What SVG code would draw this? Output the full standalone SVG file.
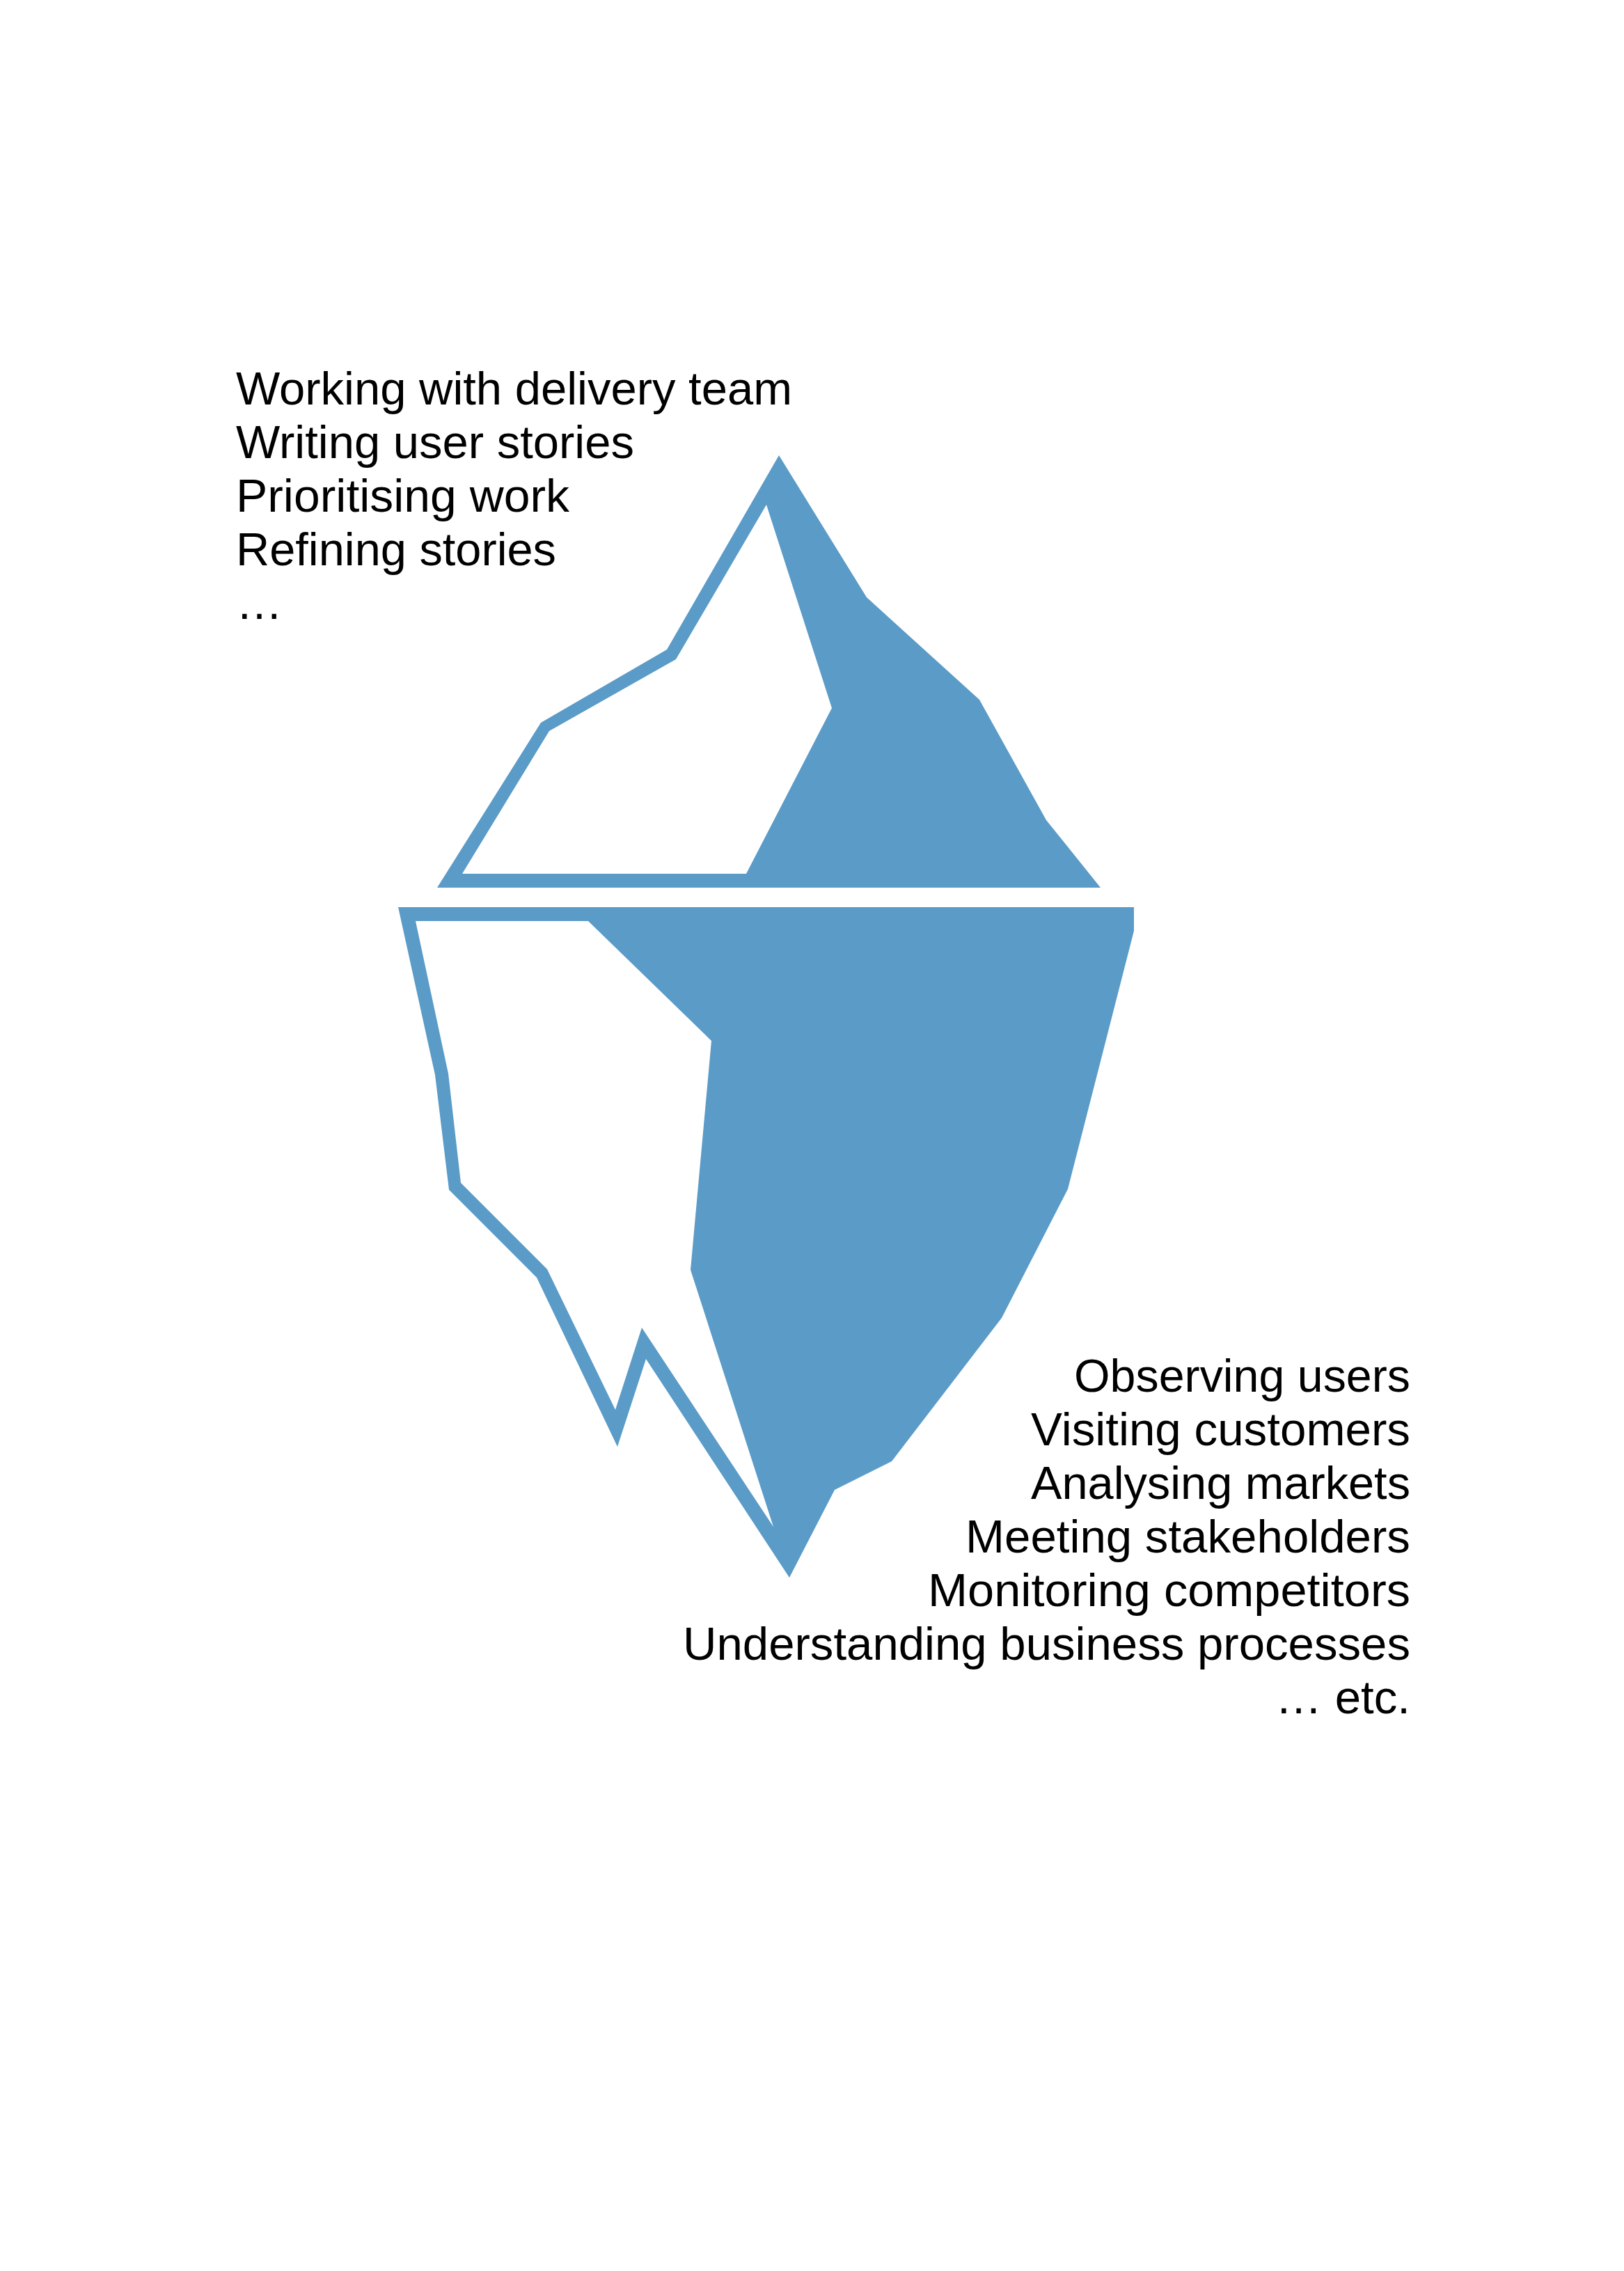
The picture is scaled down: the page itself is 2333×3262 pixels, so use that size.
<svg xmlns="http://www.w3.org/2000/svg" width="2333" height="3262" viewBox="0 0 2333 3262">
<style>
.berg{fill:#5b9bc8;fill-rule:evenodd}
text{font-family:"Liberation Sans",Arial,sans-serif;font-size:67px;fill:#000}
.r{text-anchor:end}
</style>
<rect width="2333" height="3262" fill="#fff"/>
<g id="iceberg-top">
<path class="berg" d="M1119 654L1245 858L1407 1005L1503 1178L1581 1275L628 1275L777 1038L958 933ZM1101 725L971 947L789 1050L664 1255L1072 1255L1195 1017Z"/>
</g>
<g id="iceberg-bottom">
<path class="berg" d="M572 1303L1629 1303L1629 1337L1534 1708L1439 1893L1281 2099L1199 2140L1134 2266L928 1952L887 2078L771 1835L645 1709L625 1544ZM597 1323L644 1542L662 1699L786 1823L884 2025L922 1907L1111 2193L992 1824L1022 1495L845 1323Z"/>
</g>
<g id="label-top">
<text x="339" y="581" textLength="799" lengthAdjust="spacingAndGlyphs">Working with delivery team</text>
<text x="339" y="658" textLength="572" lengthAdjust="spacingAndGlyphs">Writing user stories</text>
<text x="339" y="735" textLength="479" lengthAdjust="spacingAndGlyphs">Prioritising work</text>
<text x="339" y="812" textLength="460" lengthAdjust="spacingAndGlyphs">Refining stories</text>
<text x="339" y="889">…</text>
</g>
<g id="label-bottom">
<text class="r" x="2026" y="1999" textLength="483" lengthAdjust="spacingAndGlyphs">Observing users</text>
<text class="r" x="2026" y="2076" textLength="545" lengthAdjust="spacingAndGlyphs">Visiting customers</text>
<text class="r" x="2026" y="2153" textLength="545" lengthAdjust="spacingAndGlyphs">Analysing markets</text>
<text class="r" x="2026" y="2230" textLength="639" lengthAdjust="spacingAndGlyphs">Meeting stakeholders</text>
<text class="r" x="2026" y="2307" textLength="693" lengthAdjust="spacingAndGlyphs">Monitoring competitors</text>
<text class="r" x="2026" y="2384" textLength="1045" lengthAdjust="spacingAndGlyphs">Understanding business processes</text>
<text class="r" x="2026" y="2461" textLength="194" lengthAdjust="spacingAndGlyphs">… etc.</text>
</g>
</svg>
